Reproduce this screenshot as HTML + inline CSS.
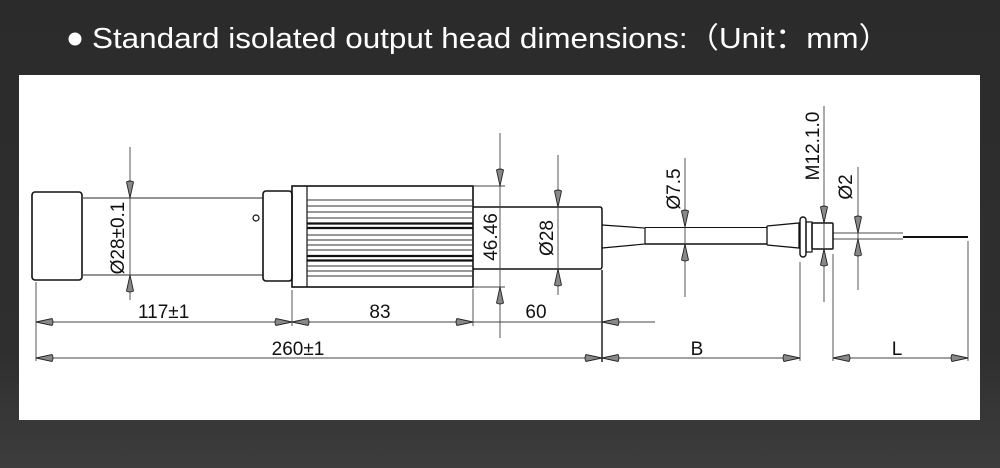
<!DOCTYPE html>
<html><head><meta charset="utf-8"><style>
html,body{margin:0;padding:0;width:1000px;height:468px;overflow:hidden;background:#2b2b2b}
svg{display:block}
</style></head><body>
<svg width="1000" height="468" viewBox="0 0 1000 468" xmlns="http://www.w3.org/2000/svg">
<defs>
<linearGradient id="bg" x1="0" y1="0" x2="0" y2="1">
<stop offset="0" stop-color="#2b2b2b"/><stop offset="0.75" stop-color="#2f2f2f"/><stop offset="1" stop-color="#3d3d3d"/>
</linearGradient>
<g id="ah"><path d="M0,0 L-16,-3.5 Q-18,0 -16,3.5 Z" fill="#888" stroke="#222" stroke-width="0.9"/></g>
</defs>
<rect width="1000" height="468" fill="url(#bg)"/>
<circle cx="75" cy="39" r="6.5" fill="#fff"/>
<text x="92" y="48" fill="#fff" font-family="Liberation Sans, Noto Sans CJK SC, sans-serif" font-size="29" textLength="798" lengthAdjust="spacingAndGlyphs">Standard isolated output head dimensions:（Unit：mm）</text>
<rect x="19" y="75" width="961" height="345" fill="#fff"/>

<g stroke="#111" fill="none" stroke-width="1.2">
<rect x="32" y="192" width="50" height="88" rx="3" stroke-width="1.6"/>
<line x1="82" y1="198" x2="263" y2="198" stroke="#555"/>
<line x1="82" y1="275" x2="263" y2="275" stroke="#555"/>
<circle cx="256" cy="218" r="3"/>
<rect x="263" y="191" width="29" height="90" rx="3" stroke-width="1.6"/>
<rect x="292" y="186" width="181" height="101" stroke-width="1.6"/>
<line x1="307" y1="186" x2="307" y2="287"/>
</g>
<g stroke="#333" stroke-width="0.9">
<line x1="307" y1="200" x2="473" y2="200"/><line x1="307" y1="206" x2="473" y2="206"/>
<line x1="307" y1="212" x2="473" y2="212"/><line x1="307" y1="218" x2="473" y2="218"/>
<line x1="307" y1="223.5" x2="473" y2="223.5" stroke-width="2.2" stroke="#111"/>
<line x1="307" y1="228" x2="473" y2="228" stroke-width="2.2" stroke="#111"/>
<line x1="307" y1="235" x2="473" y2="235"/><line x1="307" y1="240" x2="473" y2="240"/>
<line x1="307" y1="245" x2="473" y2="245"/><line x1="307" y1="250" x2="473" y2="250"/>
<line x1="307" y1="256" x2="473" y2="256" stroke-width="2.2" stroke="#111"/>
<line x1="307" y1="260.5" x2="473" y2="260.5" stroke-width="2.2" stroke="#111"/>
<line x1="307" y1="266" x2="473" y2="266"/><line x1="307" y1="271" x2="473" y2="271"/>
<line x1="307" y1="276" x2="473" y2="276"/>
</g>
<g stroke="#111" fill="none" stroke-width="1.5">
<path d="M473,207 H600 Q602,207 602,210 V266 Q602,269 600,269 H473"/>
<path d="M602,225 L645,228 V244 L602,248" stroke-width="1.2"/>
<line x1="645" y1="227.5" x2="767" y2="227.5" stroke-width="1"/>
<line x1="645" y1="244" x2="767" y2="244" stroke-width="1.6"/>
<path d="M767,226 V245 M767,226 L799,223 V248 L767,245" stroke-width="1.3"/>
<rect x="800" y="217" width="6" height="40" rx="3" stroke-width="1.4"/>
<rect x="806" y="222" width="6" height="30" stroke-width="1.2"/>
<rect x="812" y="223" width="21" height="26" rx="1" stroke-width="1.5"/>
<line x1="833" y1="233" x2="903" y2="233" stroke-width="0.8"/>
<line x1="833" y1="239" x2="903" y2="239" stroke-width="0.8"/>
<line x1="903" y1="237" x2="968" y2="237" stroke-width="2"/>
</g>

<g stroke="#444" stroke-width="0.9" fill="none">
<line x1="130" y1="147" x2="130" y2="300"/>
<line x1="500" y1="133" x2="500" y2="338"/>
<line x1="473" y1="186" x2="505" y2="186"/><line x1="473" y1="287" x2="505" y2="287"/>
<line x1="558" y1="155" x2="558" y2="295"/>
<line x1="685" y1="158" x2="685" y2="297"/>
<line x1="824" y1="106" x2="824" y2="302"/>
<line x1="858" y1="167" x2="858" y2="290"/>
<line x1="36" y1="282" x2="36" y2="361"/>
<line x1="292" y1="290" x2="292" y2="326"/>
<line x1="473" y1="289" x2="473" y2="326"/>
<line x1="602" y1="270" x2="602" y2="362" stroke-width="1.4" stroke="#111"/>
<line x1="800" y1="262" x2="800" y2="361"/>
<line x1="833" y1="254" x2="833" y2="361"/>
<line x1="968" y1="241" x2="968" y2="361"/>
<line x1="36" y1="322" x2="655" y2="322"/>
<line x1="36" y1="358" x2="800" y2="358"/>
<line x1="833" y1="358" x2="968" y2="358"/>
</g>

<g>
<use href="#ah" transform="translate(36,322) rotate(180)"/>
<use href="#ah" transform="translate(292,322)"/>
<use href="#ah" transform="translate(292,322) rotate(180)"/>
<use href="#ah" transform="translate(473,322)"/>
<use href="#ah" transform="translate(602,322) rotate(180)"/>
<use href="#ah" transform="translate(36,358) rotate(180)"/>
<use href="#ah" transform="translate(602,358)"/>
<use href="#ah" transform="translate(602,358) rotate(180)"/>
<use href="#ah" transform="translate(800,358)"/>
<use href="#ah" transform="translate(833,358) rotate(180)"/>
<use href="#ah" transform="translate(968,358)"/>
<use href="#ah" transform="translate(130,198) rotate(90)"/>
<use href="#ah" transform="translate(130,275) rotate(-90)"/>
<use href="#ah" transform="translate(500,186) rotate(90)"/>
<use href="#ah" transform="translate(500,287) rotate(-90)"/>
<use href="#ah" transform="translate(558,207) rotate(90)"/>
<use href="#ah" transform="translate(558,269) rotate(-90)"/>
<use href="#ah" transform="translate(685,227) rotate(90)"/>
<use href="#ah" transform="translate(685,244) rotate(-90)"/>
<use href="#ah" transform="translate(824,223) rotate(90)"/>
<use href="#ah" transform="translate(824,249) rotate(-90)"/>
<use href="#ah" transform="translate(858,233) rotate(90)"/>
<use href="#ah" transform="translate(858,239) rotate(-90)"/>
</g>

<g font-family="Liberation Sans, sans-serif" font-size="19" fill="#111">
<text x="138" y="318">117±1</text>
<text x="380" y="318" text-anchor="middle">83</text>
<text x="536" y="318" text-anchor="middle">60</text>
<text x="298" y="355" text-anchor="middle">260±1</text>
<text x="697" y="355" text-anchor="middle">B</text>
<text x="897" y="355" text-anchor="middle">L</text>
<text transform="translate(124,238) rotate(-90)" text-anchor="middle">Ø28±0.1</text>
<text transform="translate(497,237) rotate(-90)" text-anchor="middle">46.46</text>
<text transform="translate(553,238) rotate(-90)" text-anchor="middle">Ø28</text>
<text transform="translate(680,189) rotate(-90)" text-anchor="middle">Ø7.5</text>
<text transform="translate(819,146) rotate(-90)" text-anchor="middle">M12.1.0</text>
<text transform="translate(852,187) rotate(-90)" text-anchor="middle">Ø2</text>
</g>
</svg>
</body></html>
